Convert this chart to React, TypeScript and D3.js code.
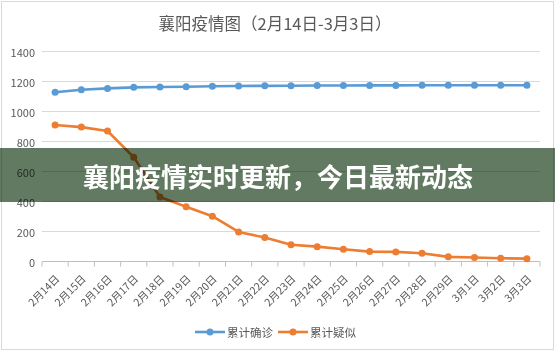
import React from "react";
import { scaleBand, scaleLinear, line } from "d3";

const dates = [
  "2月14日", "2月15日", "2月16日", "2月17日", "2月18日", "2月19日", "2月20日",
  "2月21日", "2月22日", "2月23日", "2月24日", "2月25日", "2月26日", "2月27日",
  "2月28日", "2月29日", "3月1日", "3月2日", "3月3日"
];
const confirmed = [
  1128, 1145, 1154, 1161, 1163, 1165, 1168, 1170, 1171, 1172,
  1173, 1173, 1174, 1174, 1175, 1175, 1175, 1175, 1175
];
const suspected = [
  910, 896, 870, 695, 430, 365, 302, 197, 160, 112,
  99, 82, 66, 64, 55, 31, 27, 22, 19
];
const yTicks = [0, 200, 400, 600, 800, 1000, 1200, 1400];
const series = [
  { name: "累计确诊", values: confirmed, color: "#5b9bd5" },
  { name: "累计疑似", values: suspected, color: "#ed7d31" }
];
const title = "襄阳疫情图（2月14日-3月3日）";
const banner = "襄阳疫情实时更新，今日最新动态";

const font = "'Noto Sans CJK SC', 'Noto Sans', sans-serif";

export default function App() {
  const width = 555,
    height = 352;
  const left = 42,
    right = 540,
    top = 51.5,
    bottom = 261.5;

  const x = scaleBand<string>().domain(dates).range([left, right]);
  const y = scaleLinear().domain([0, 1400]).range([bottom, top]);
  const cx = (d: string) => (x(d) as number) + x.bandwidth() / 2;

  const gen = line<number>()
    .x((_, i) => cx(dates[i]))
    .y(d => y(d));

  return (
    <svg
      width={width}
      height={height}
      style={{ position: "fixed", left: 0, top: 0, background: "#fff" }}
      fontFamily={font}
    >
      <rect x={1.5} y={1.5} width={552} height={348} fill="#fff" stroke="#d9d9d9" />
      <text x={275} y={23} textAnchor="middle" dominantBaseline="central" fontSize={16.5} fill="#595959">
        {title}
      </text>

      {yTicks.map(t => (
        <g key={t}>
          {t > 0 && <line x1={left} x2={right} y1={y(t)} y2={y(t)} stroke="#d9d9d9" />}
          <text x={35} y={y(t)} textAnchor="end" dominantBaseline="central" fontSize={11} fill="#595959">
            {t}
          </text>
        </g>
      ))}
      <line x1={left} x2={right} y1={y(0)} y2={y(0)} stroke="#bfbfbf" />
      {[...dates.map(d => x(d) as number), right].map((p, i) => (
        <line key={i} x1={p} x2={p} y1={y(0)} y2={y(0) + 5} stroke="#bfbfbf" />
      ))}
      {dates.map(d => (
        <text
          key={d}
          transform={`translate(${cx(d) + 2},${y(0) + 15}) rotate(-45)`}
          textAnchor="end"
          dominantBaseline="central"
          fontSize={10.5}
          fill="#595959"
        >
          {d}
        </text>
      ))}

      {series.map(s => (
        <g key={s.name}>
          <path d={gen(s.values) as string} fill="none" stroke={s.color} strokeWidth={2.6} strokeLinejoin="round" />
          {s.values.map((v, i) => (
            <circle key={i} cx={cx(dates[i])} cy={y(v)} r={3.5} fill={s.color} />
          ))}
        </g>
      ))}

      {series.map((s, i) => {
        const lx = 195 + i * 83;
        return (
          <g key={s.name} transform={`translate(${lx},332)`}>
            <line x1={0} x2={30} y1={0} y2={0} stroke={s.color} strokeWidth={2.6} />
            <circle cx={15} cy={0} r={3.5} fill={s.color} />
            <text x={32} y={0} dominantBaseline="central" fontSize={11.5} fill="#595959">
              {s.name}
            </text>
          </g>
        );
      })}

      <rect x={0} y={148} width={width} height={54} fill="#627a62" style={{ mixBlendMode: "multiply" }} />
      <text x={83} y={175} dominantBaseline="central" fontSize={26} fontWeight="bold" fill="#fff">
        {banner}
      </text>
    </svg>
  );
}
